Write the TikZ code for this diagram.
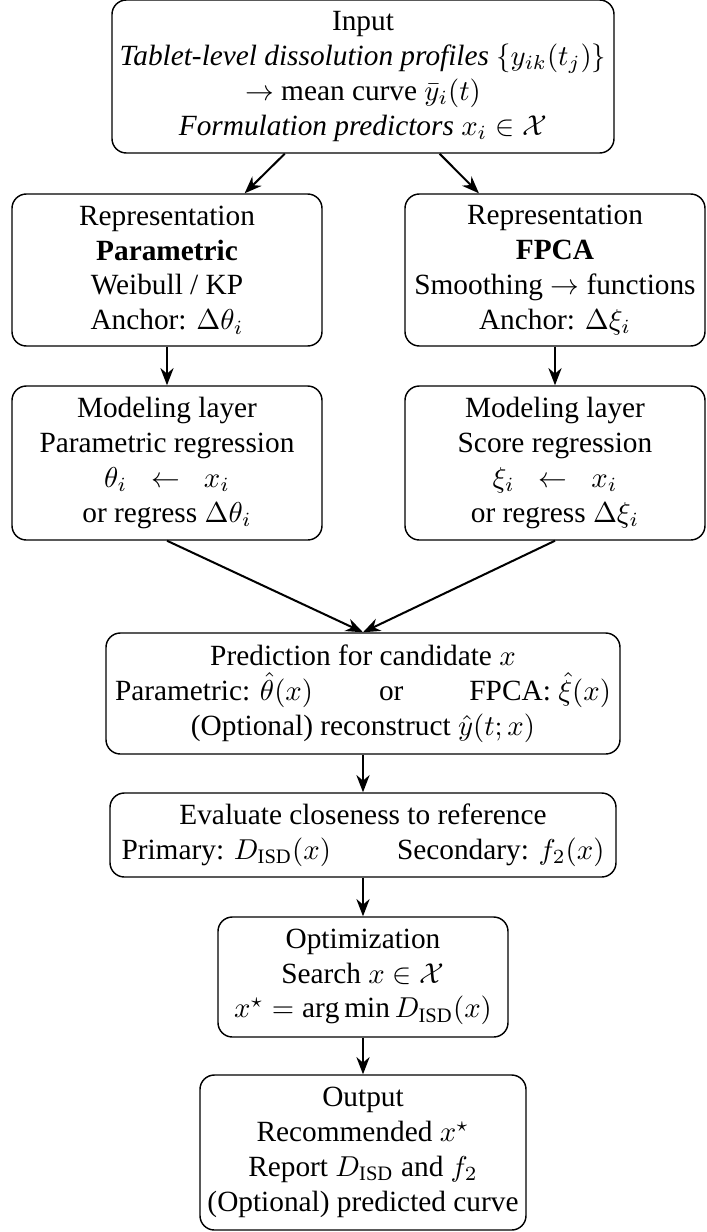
\documentclass[tikz,border=0pt]{standalone}
\usepackage{fontspec}
\setmainfont{Liberation Serif}
\usetikzlibrary{arrows.meta}
\newcommand\pxu{0.34783pt}
\begin{document}
\begin{tikzpicture}[x=\pxu, y=-\pxu,
  box/.style n args={2}{draw, rounded corners=5pt, align=center, inner sep=0pt,
    minimum width=#1*\pxu, minimum height=#2*\pxu, line width=0.5pt,
    font=\fontsize{10.2}{12.1}\selectfont},
  arr/.style={-{Stealth[length=6pt,width=4.6pt]}, line width=0.7pt}]
\useasboundingbox (0,0) rectangle (706,1232);
\node[box={502}{153}] (in) at (363,76.5) {Input\\
  \textit{Tablet-level dissolution profiles} $\{y_{ik}(t_j)\}$\\
  $\to$ mean curve $\bar{y}_i(t)$\\
  \textit{Formulation predictors} $x_i \in \mathcal{X}$};
\node[box={310}{152}] (repL) at (167,270) {Representation\\ \textbf{Parametric}\\ Weibull / KP\\ Anchor: $\Delta\theta_i$};
\node[box={300}{152}] (repR) at (555,270) {Representation\\ \textbf{FPCA}\\ Smoothing $\to$ functions\\ Anchor: $\Delta\xi_i$};
\node[box={310}{154}] (modL) at (167,463) {Modeling layer\\ Parametric regression\\ $\theta_i \;\;\leftarrow\;\; x_i$\\ or regress $\Delta\theta_i$};
\node[box={300}{154}] (modR) at (555,463) {Modeling layer\\ Score regression\\ $\xi_i \;\;\leftarrow\;\; x_i$\\ or regress $\Delta\xi_i$};
\node[box={514}{121}] (pred) at (363,693.5) {Prediction for candidate $x$\\
  Parametric: $\hat{\theta}(x)$ \qquad or \qquad FPCA: $\hat{\xi}(x)$\\
  (Optional) reconstruct $\hat{y}(t;x)$};
\node[box={506}{84}] (eval) at (363,835) {Evaluate closeness to reference\\
  Primary: $D_{\mathrm{ISD}}(x)$ \qquad Secondary: $f_2(x)$};
\node[box={290}{120}] (opt) at (363,977) {Optimization\\ Search $x \in \mathcal{X}$\\ $x^\star = \arg\min D_{\mathrm{ISD}}(x)$};
\node[box={326}{155}] (out) at (363,1152.5) {Output\\ Recommended $x^\star$\\ Report $D_{\mathrm{ISD}}$ and $f_2$\\ (Optional) predicted curve};
\draw[arr] (in) -- (repL);
\draw[arr] (in) -- (repR);
\draw[arr] (repL) -- (modL);
\draw[arr] (repR) -- (modR);
\draw[arr] (modL.south) -- (pred.north);
\draw[arr] (modR.south) -- (pred.north);
\draw[arr] (pred) -- (eval);
\draw[arr] (eval) -- (opt);
\draw[arr] (opt) -- (out);
\end{tikzpicture}
\end{document}
